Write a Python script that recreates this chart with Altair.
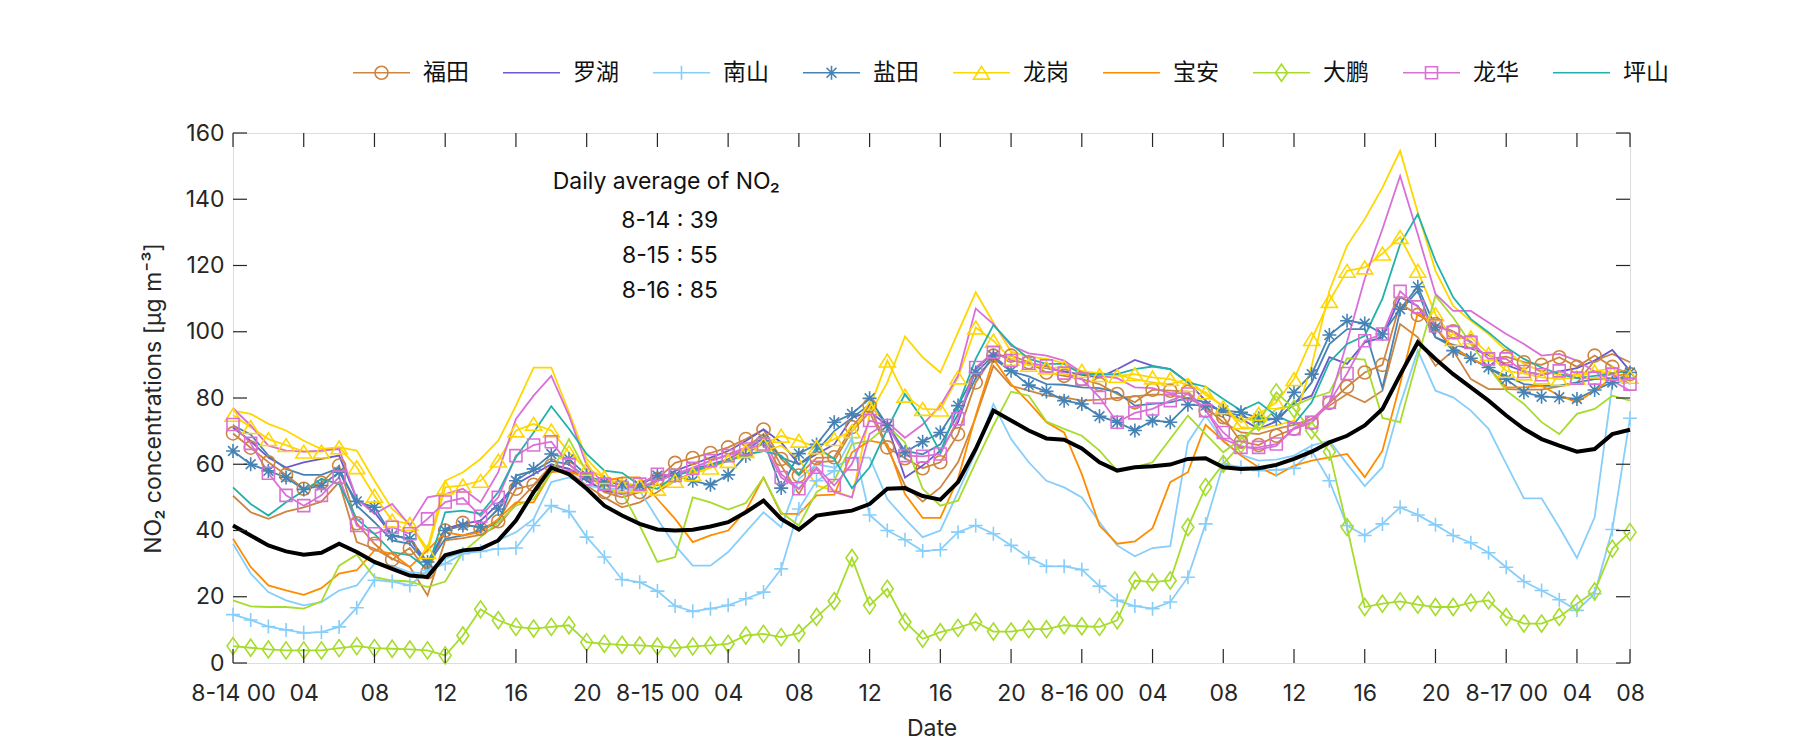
import altair as alt
import pandas as pd

# ---------------- data ----------------
hours = list(range(80))  # 8-14 00 ... 8-17 07, hourly
tick_hours = [0, 4, 8, 12, 16, 20, 24, 28, 32, 36, 40, 44, 48, 52, 56, 60, 64, 68, 72, 76, 79]
tick_labels = ["8-14 00", "04", "08", "12", "16", "20",
               "8-15 00", "04", "08", "12", "16", "20",
               "8-16 00", "04", "08", "12", "16", "20",
               "8-17 00", "04", "08"]
y_ticks = [0, 20, 40, 60, 80, 100, 120, 140, 160]

districts = ["福田", "罗湖", "南山", "盐田", "龙岗", "宝安", "大鹏", "龙华", "坪山"]
colors = ["#CD853F", "#6A5ACD", "#87CEFA", "#4682B4", "#FFD700",
          "#FF8C00", "#A6DC2C", "#DA70D6", "#20B2AA"]

futian_1 = [69.3, 65, 60.6, 56.8, 52.6, 54.4, 59.6, 42.2, 36, 31.2, 34.7, 27.4, 40, 42.3, 40.5, 42.8, 52.6,
            53.8, 59.6, 58.6, 55.6, 51.6, 50, 51.6, 55.6, 60.4, 61.9, 63.4, 65.1, 67.6, 70.5, 61.6, 56.6,
            61.9, 62.1, 71.2, 77.7, 65.1, 61.8, 58.8, 60.6, 69.1, 84.7, 92.8, 92.8, 90.8, 87.7, 86.7, 85.7,
            84.2, 81.2, 78.7, 82.5, 82.2, 81.9, 76.2, 74.2, 66.8, 65.8, 68.6, 70.7, 72.5, 78.5, 83.4, 87.7,
            90, 108.5, 105.1, 102.3, 100.1, 97.1, 91.8, 92.5, 90.8, 90, 92.3, 89.4, 92.8, 89.4, 87.2]
futian_2 = [50.5, 45.5, 43.5, 45.7, 47, 48.7, 54.6, 36.5, 34.5, 31.5, 29, 20.4, 37, 37.7, 38.7, 41.5, 48,
            53.6, 58.6, 57.6, 53.6, 50, 47, 48.5, 51.6, 55, 57.5, 59.5, 61.5, 65, 69.1, 59.6, 51,
            60.6, 61, 70, 75.7, 65, 53.6, 48.7, 53, 60.6, 74.2, 89.7, 83.7, 82.2, 80.7, 80.2, 79.2,
            79.5, 80, 80.5, 81, 81, 80, 77.2, 72.7, 69.6, 69.1, 70.7, 71.9, 73.7, 77.7, 81.2, 78.7,
            82.2, 102.3, 98.3, 89.7, 94.3, 85.7, 82.7, 82.7, 82.5, 82.5, 83.5, 84.5, 91.3, 93.3, 90.8]
luohu = [71, 67, 62, 59, 60.6, 61.6, 62.6, 49.5, 45.5, 38.5, 37.5, 29.4, 40.5, 42, 43, 48, 54,
         57, 60, 58.6, 55, 52, 51, 52, 55, 58, 60, 62, 64, 67, 70.5, 66.6, 60,
         63, 66, 74, 76, 71.7, 56, 59.6, 64.1, 72.7, 88.7, 93.6, 91.8, 90, 89, 88, 87,
         86.2, 88.7, 91.5, 89.7, 88.7, 84.7, 79.2, 75.2, 73.7, 70.7, 72.9, 78.7, 80.7, 92.3, 90.3, 96.8,
         98.3, 110.4, 107.8, 98.3, 96, 95, 93, 90, 88, 87, 88, 89, 91.3, 94.5, 88.2]
nanshan_1 = [14.6, 13, 11, 10, 9.1, 9.3, 10.9, 16.7, 25, 24.6, 23.4, 28, 30, 33, 33.7, 34.5, 34.7,
             41.5, 47.5, 45.7, 38, 32, 25.2, 24.4, 21.7, 17.2, 15.6, 16.4, 17.4, 19.4, 21.4, 28.4, 46.5,
             55, 58, 68, 44.7, 40, 37.2, 33.8, 34.2, 39.5, 41.5, 39, 35.5, 31.8, 29.2, 29.2, 28.2,
             23.2, 18.9, 17.2, 16.4, 18.4, 25.9, 42, 60.1, 59.1, 58.1, 58.3, 58.8, 64.1, 55, 41.5, 38.5,
             42, 47, 44.7, 41.7, 38.5, 36.3, 33.3, 28.9, 24.6, 21.9, 19.1, 15.9, 20.9, 40.3, 73.9]
nanshan_2 = [36, 27, 21.4, 18.9, 17.4, 18.4, 21.9, 23.4, 30, 29.4, 27.4, 27, 31.5, 33.5, 35, 37, 39.5,
             43.5, 54.6, 56, 53.6, 52.6, 52.6, 52, 43.5, 35.5, 29.4, 29.4, 33.5, 39.5, 45.5, 41, 55.6,
             60, 59, 62, 62, 49.5, 43.5, 38, 40, 51.6, 63.6, 78.2, 67.6, 60.6, 55, 53, 50,
             42.5, 35.5, 32.2, 34.7, 35.3, 66.6, 74.7, 66.8, 62.8, 61.1, 61.4, 62.6, 65.6, 67.1, 60.1, 53.4,
             59.1, 78, 94.3, 82.2, 80.2, 76.2, 70.7, 60.1, 49.7, 49.7, 41, 31.7, 44, 84, 86]
yantian_1 = [64, 60, 58, 56, 52.4, 53.6, 57.6, 48.8, 47, 38.5, 37.5, 30.5, 40, 41.5, 41.2, 46.5, 55,
             58.6, 63.1, 61.6, 56.6, 54.6, 54, 53.6, 56.6, 56.6, 55, 53.8, 56.8, 62.6, 67.1, 52.8, 63.2,
             66, 72.7, 75.2, 79.9, 71.7, 63.6, 66.8, 69.6, 77.7, 87.7, 92.8, 88.2, 83.9, 82, 79.2, 78.2,
             74.5, 72.7, 70.2, 73.2, 72.7, 78, 77.7, 76.2, 75.7, 73.9, 73.7, 81.7, 87.2, 99, 103.3, 102.5,
             99.3, 106.8, 113.6, 101.3, 94.3, 92, 89.2, 85.7, 81.7, 80.4, 80.2, 79.7, 82.4, 84.7, 87.7]
yantian_2 = [71.7, 69, 62.6, 58.6, 56.8, 56.8, 58.8, 47.5, 42.5, 37, 36, 29.5, 37.5, 38.5, 40, 42.5, 56.6,
             58, 61, 60, 56, 54, 53, 53, 55, 57, 58.5, 60, 61.5, 64, 68, 62, 60,
             64, 70, 74, 78, 72, 64, 63, 66, 75, 86, 92, 88, 86.5, 84.2, 84, 83.2,
             83, 81.7, 77.7, 78.2, 78.7, 80, 78.7, 75.7, 74.7, 72.7, 73.9, 78, 84.7, 96.3, 100.8, 100.8,
             83, 106.3, 112.4, 98.3, 95.3, 92, 89, 86.7, 84.2, 83.7, 83.7, 84.7, 85.7, 86, 86]
longgang_1 = [74.9, 71.2, 67.6, 65.8, 63.8, 63.8, 65.1, 59.1, 50.5, 43, 42, 33.5, 53, 53.6, 55, 61.1, 70.2,
              72.2, 70.2, 63.6, 58.6, 56.1, 53.6, 53.6, 52.6, 55, 57, 59, 61, 64, 66, 68.6, 67.1,
              65.1, 67.6, 70, 77, 91.3, 80.7, 76.7, 76.5, 86.2, 101.3, 97.3, 91.8, 90, 89.2, 89.2, 88.2,
              86.9, 86.7, 87.2, 86.2, 85.7, 83.9, 81.7, 77.2, 72.7, 75.2, 78.7, 85.7, 97.8, 109.3, 118.4, 119.4,
              123.6, 128.6, 118.4, 105.3, 97.8, 98.3, 93.3, 88.2, 87.4, 86.2, 85.7, 86.2, 88, 87.4, 86.4]
longgang_2 = [76.2, 75.2, 72.2, 70.2, 67.1, 64.6, 65.1, 64.1, 55, 46.5, 42, 34.5, 55, 57.6, 61.6, 67.1, 77.7,
              89.2, 89.2, 75.7, 61.6, 56, 55, 53, 53.6, 55, 57, 59, 61, 62.5, 64, 65.6, 61.6,
              53.6, 52, 50, 75, 84.7, 98.6, 92.3, 87.7, 99.8, 111.9, 102.8, 94, 92.5, 91.8, 90.5, 88,
              87.5, 87, 85.7, 84.7, 84.2, 85.7, 80.9, 77.7, 71.2, 70.7, 71.7, 73.2, 89.7, 112.4, 126, 134,
              143.5, 154.6, 136, 118.4, 107.8, 103.3, 99.3, 94.3, 90.3, 88, 87, 87, 88, 89, 87]
baoan = [37.5, 29, 23.4, 21.9, 20.6, 22.6, 27, 28, 34, 33, 29, 34, 39.5, 38.5, 39.5, 43.5, 48.5,
         48.5, 57.6, 58, 55.6, 55, 56, 56, 49.5, 43.5, 36.5, 38.5, 40, 46, 56, 45, 45,
         50.6, 50.8, 63.6, 67.1, 66.1, 51, 43.8, 43.8, 55.6, 74.7, 91.8, 84.2, 78.7, 72.7, 69.6, 57,
         41.5, 36, 36.7, 40.7, 54.6, 57.6, 71.9, 67.1, 62.6, 59.1, 56.6, 59.6, 61.1, 62.1, 63.1, 56.1,
         64.1, 84.2, 105.8, 101.3, 95, 92, 89.2, 83.2, 83.2, 83.7, 80.7, 78.7, 82.2, 86.2, 87.7]
dapeng_1 = [5.1, 4.6, 4.1, 3.8, 3.8, 3.8, 4.5, 5.1, 4.5, 4.3, 4.1, 3.8, 2.3, 8.3, 16.2, 12.9, 10.9,
            10.4, 10.9, 11.4, 6.3, 5.8, 5.5, 5.3, 5, 4.5, 5, 5.3, 5.8, 8.3, 8.8, 7.8, 9,
            13.9, 18.7, 31.7, 17.4, 22.4, 12.4, 7.3, 9.3, 10.6, 12.4, 9.5, 9.5, 10.2, 10.2, 11.4, 11.1,
            10.9, 12.9, 24.9, 24.4, 24.9, 41, 53.1, 60.1, 66, 72.7, 81.7, 76.7, 70.2, 63.8, 41, 16.9,
            17.9, 18.6, 17.6, 16.9, 16.9, 18.2, 18.9, 13.9, 11.9, 11.9, 13.9, 17.9, 21.6, 34.5, 39.5]
dapeng_2 = [18.9, 17.1, 16.9, 16.9, 16.4, 18.6, 29.4, 32.7, 25.9, 24.9, 24.6, 22.9, 24.6, 33.5, 38, 42.5, 47.5,
            49.5, 57.6, 67.6, 57.6, 52.6, 51.6, 41.5, 30.5, 32, 50, 48.5, 46.3, 48.3, 56, 45.5, 41.5,
            51.6, 55, 66.1, 67.1, 71.7, 66.6, 52.6, 47.5, 49, 60.6, 71.7, 81.9, 80.7, 72.9, 70.7, 68.6,
            64.1, 58.1, 59.1, 60.6, 67.6, 74.7, 69.1, 63.6, 67.6, 71.7, 76.7, 77.7, 80, 81.7, 92, 91.6,
            74, 72.7, 92.3, 110.9, 104.3, 96.3, 89.2, 82.2, 78.2, 72.7, 69.1, 75.2, 76.7, 80.7, 79.2]
longhua_1 = [72, 66.3, 57.3, 50.6, 47.5, 50.6, 56.1, 41.5, 39, 41, 39, 43.5, 48.6, 49.8, 44.3, 50, 62.6,
             65.8, 66.8, 60, 55.6, 54, 53, 54, 57, 56.6, 58.8, 61.1, 62.6, 64.6, 66.1, 56, 52.6,
             59.1, 53.6, 60.1, 73.2, 71.7, 62.6, 62.4, 63.1, 73.7, 89.2, 93.8, 91.3, 90.5, 89.7, 87.5, 85.7,
             80.2, 72.7, 75.5, 76.7, 79.2, 81.2, 76.2, 69.6, 65.1, 65.1, 66.1, 70.7, 72.7, 78.7, 87.4, 97.3,
             99.3, 112.2, 107.5, 101.8, 99.8, 96.8, 91.8, 91.8, 88, 87, 88.2, 86, 86, 87.2, 84.2]
longhua_2 = [76.9, 71.7, 65.6, 64.1, 63.8, 64.1, 64.6, 49.5, 45, 48, 41.5, 50, 51, 52.6, 48.5, 57.6, 73.7,
             80.7, 86.7, 74.7, 59.6, 54, 53, 53, 55, 57, 59, 61, 63, 65, 68, 57, 52.6,
             58.6, 51.6, 50, 69.1, 72.7, 68, 72, 77.7, 86.7, 107, 102.3, 95.8, 93.5, 92.8, 91.3, 87.7,
             86.7, 86, 83.2, 83, 81.5, 81.5, 76.5, 67.6, 65.5, 64.5, 65.5, 71, 73.5, 78.7, 97, 116,
             131, 147, 129.4, 111.4, 106.3, 106.3, 102.8, 99.3, 96.3, 92.8, 93.3, 91.3, 88, 85.2, 82.2]
pingshan = [53, 48, 44.5, 48.5, 52, 55.6, 54, 43.5, 39, 33.5, 32.5, 28.4, 45.5, 46, 45, 51.6, 62.1,
            69.6, 77.5, 70.7, 63.1, 58.1, 57.4, 53.6, 52.6, 56.6, 58, 59.5, 61, 63, 64, 62.6, 57,
            65.1, 61.6, 52.8, 59.1, 70.7, 81.2, 73.7, 63.6, 77.7, 91.8, 102, 96.3, 91.8, 90.3, 90.3, 87.2,
            87.2, 87.2, 88.7, 89.5, 88.7, 84.7, 83.4, 79.7, 76.2, 78.7, 74.7, 72.2, 78.7, 90.8, 96.3, 98.8,
            110, 126.4, 135.5, 121.4, 110.4, 103.8, 99.8, 95.3, 91.8, 89.2, 87.2, 86, 86.7, 87.5, 88.2]
city_mean = [41.5, 38.5, 35.5, 33.7, 32.7, 33.3, 36, 33.5, 30.5, 28.4, 26.4, 26, 32.5, 34, 34.5, 37, 43,
             51.6, 59, 57, 52.6, 47.5, 44.5, 42, 40.3, 40, 40.2, 41.2, 42.5, 45.5, 49, 43.5, 40.3,
             44.5, 45.3, 46, 48, 52.6, 52.8, 50.4, 49.3, 54.6, 64.6, 76.2, 73.2, 70.2, 67.8, 67.4, 64.8,
             60.6, 58.1, 59.1, 59.4, 59.9, 61.6, 61.8, 59.1, 58.6, 58.8, 59.8, 61.6, 63.8, 66.6, 68.6, 71.7,
             76.7, 87, 96.8, 91.8, 87.2, 83.2, 79.2, 74.7, 70.7, 67.6, 65.6, 63.8, 64.6, 69.1, 70.4]

stations = ["FT1", "FT2", "LH", "NS1", "NS2", "YT1", "YT2", "LG1", "LG2",
            "BA", "DP1", "DP2", "LHA1", "LHA2", "PS"]
station_district = ["福田", "福田", "罗湖", "南山", "南山", "盐田", "盐田", "龙岗", "龙岗",
                    "宝安", "大鹏", "大鹏", "龙华", "龙华", "坪山"]
station_values = [futian_1, futian_2, luohu, nanshan_1, nanshan_2, yantian_1, yantian_2,
                  longgang_1, longgang_2, baoan, dapeng_1, dapeng_2, longhua_1, longhua_2, pingshan]

annot_text = ["Daily average of NO₂", "8-14 : 39", "8-15 : 55", "8-16 : 85"]
annot_h = [24.5, 24.7, 24.7, 24.7]
annot_v = [145.2, 133.4, 122.9, 112.3]

# ---------------- styling ----------------
W, H = 1397, 530
FONT = "Inter"
INK = "#262626"
TICK = 14

marker_paths = {
    "FT1": "circle",
    "NS1": "M-1,0H1M0,-1V1",
    "YT1": "M-1,0H1M0,-1V1M-0.7,-0.7L0.7,0.7M-0.7,0.7L0.7,-0.7",
    "LG1": "M0,-0.8L1,0.8L-1,0.8Z",
    "DP1": "M0,-1L0.7,0L0,1L-0.7,0Z",
    "LHA1": "square",
}
marker_sizes = {"FT1": 170, "NS1": 196, "YT1": 196, "LG1": 256, "DP1": 289, "LHA1": 144}

legend_paths = [
    "M-1,0H1M0.228,0A0.228,0.228,0,1,1,-0.228,0A0.228,0.228,0,1,1,0.228,0",
    "M-1,0H1",
    "M-1,0H1M0,-0.246V0.246",
    "M-1,0H1M0,-0.246V0.246M-0.174,-0.174L0.174,0.174M-0.174,0.174L0.174,-0.174",
    "M-1,0H1M0,-0.224L0.28,0.224L-0.28,0.224Z",
    "M-1,0H1",
    "M-1,0H1M0,-0.3L0.21,0L0,0.3L-0.21,0Z",
    "M-1,0H1M-0.21,-0.21H0.21V0.21H-0.21Z",
    "M-1,0H1",
]

# ---------------- tables ----------------
district_color = dict(zip(districts, colors))
rows = []
for st, dist, vals in zip(stations, station_district, station_values):
    for h, v in zip(hours, vals):
        rows.append({"h": h, "value": v, "station": st, "district": dist,
                     "col": district_color[dist]})
df = pd.DataFrame(rows)
mean_df = pd.DataFrame({"h": hours, "value": city_mean})
legend_df = pd.DataFrame({"district": districts})
xt_df = pd.DataFrame({"h": tick_hours})
yt_df = pd.DataFrame({"value": y_ticks})
annot_df = pd.DataFrame({"h": annot_h, "value": annot_v, "text": annot_text})

label_array = ["" for _ in hours]
for th, tl in zip(tick_hours, tick_labels):
    label_array[th] = tl
label_expr = "[" + ",".join("'" + s + "'" for s in label_array) + "][datum.value]"

x_enc = alt.X(
    "h:Q",
    scale=alt.Scale(domain=[0, 79], nice=False, zero=False),
    axis=alt.Axis(values=tick_hours, labelExpr=label_expr, title="Date", ticks=False,
                  domain=False, grid=False, labelPadding=19, titlePadding=12,
                  labelFont=FONT, titleFont=FONT, labelFontSize=23, titleFontSize=23,
                  labelColor=INK, titleColor=INK, titleFontWeight="normal",
                  labelOverlap=False, labelFlush=False),
)
y_enc = alt.Y(
    "value:Q",
    scale=alt.Scale(domain=[0, 160], nice=False),
    axis=alt.Axis(values=y_ticks, title="NO₂ concentrations [μg m⁻³]", ticks=False,
                  domain=False, grid=False, labelPadding=9, titlePadding=20,
                  labelFont=FONT, titleFont=FONT, labelFontSize=23, titleFontSize=23,
                  labelColor=INK, titleColor=INK, titleFontWeight="normal"),
)
color_id = alt.Color("col:N", scale=None)

legend_def = alt.Legend(
    title=None, orient="none", legendX=119, legendY=-90, direction="horizontal",
    columns=9, columnPadding=30, labelOffset=12, symbolSize=3249, symbolStrokeWidth=1.6,
    symbolOpacity=1, labelFont="Noto Sans CJK SC", labelFontSize=23, labelColor="#111111",
    padding=0,
)

lines = alt.Chart(df).mark_line(strokeWidth=1.8).encode(
    x=x_enc, y=y_enc, color=color_id, detail="station:N",
)

point_layers = []
for st in ["FT1", "NS1", "YT1", "LG1", "DP1", "LHA1"]:
    point_layers.append(
        alt.Chart(df).transform_filter(alt.datum.station == st)
        .mark_point(shape=marker_paths[st], filled=False, size=marker_sizes[st],
                    strokeWidth=1.6, opacity=1)
        .encode(x=x_enc, y=y_enc, color=color_id)
    )

mean_line = alt.Chart(mean_df).mark_line(color="black", strokeWidth=4).encode(x=x_enc, y=y_enc)

tick_style = dict(color=INK, strokeWidth=1.2)
xt_bottom = alt.Chart(xt_df).mark_rule(**tick_style).encode(
    x=x_enc, y=alt.value(H), y2=alt.value(H - TICK))
xt_top = alt.Chart(xt_df).mark_rule(**tick_style).encode(
    x=x_enc, y=alt.value(0), y2=alt.value(TICK))
yt_left = alt.Chart(yt_df).mark_rule(**tick_style).encode(
    y=y_enc, x=alt.value(0), x2=alt.value(TICK))
yt_right = alt.Chart(yt_df).mark_rule(**tick_style).encode(
    y=y_enc, x=alt.value(W - TICK), x2=alt.value(W))

annot = alt.Chart(annot_df).mark_text(font=FONT, fontSize=23, color="#111111",
                                      align="center", baseline="middle").encode(
    x=x_enc, y=y_enc, text="text:N")

legend_layer = alt.Chart(legend_df).mark_point(filled=False, opacity=0).encode(
    x=alt.value(0), y=alt.value(0),
    color=alt.Color("district:N", scale=alt.Scale(domain=districts, range=colors),
                    legend=legend_def),
    shape=alt.Shape("district:N", scale=alt.Scale(domain=districts, range=legend_paths),
                    legend=legend_def),
)

chart = alt.layer(
    lines, *point_layers, mean_line, xt_bottom, xt_top, yt_left, yt_right, annot, legend_layer
).properties(
    width=W, height=H,
    autosize=alt.AutoSizeParams(type="none"),
    padding={"left": 225, "top": 125, "right": 150, "bottom": 79},
).configure_view(stroke=INK, strokeWidth=1.3).configure(background="white")

chart.save("out.html", embed_options={"renderer": "svg", "actions": False})
